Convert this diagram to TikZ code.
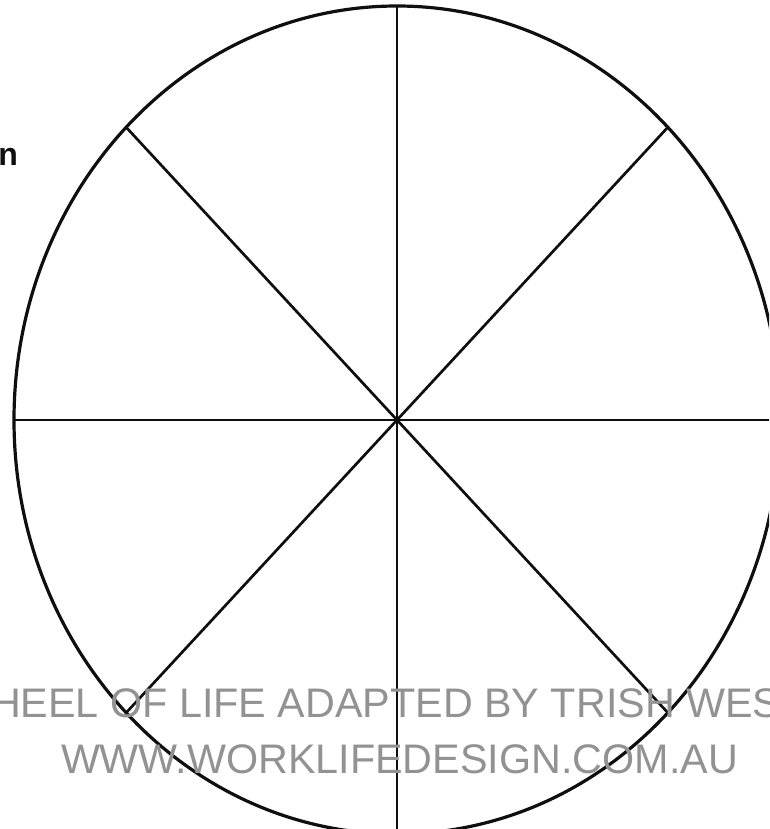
\documentclass[tikz,border=0pt]{standalone}
\usepackage{fontspec}
\newfontfamily\arialf{Liberation Sans}
\definecolor{wmgray}{RGB}{146,146,146}
\definecolor{inkblack}{RGB}{15,15,15}
\begin{document}
\begin{tikzpicture}[x=1pt,y=-1pt,
  rim/.style={draw=inkblack,line width=3.2pt},
  spoke/.style={draw=inkblack,line width=2.7pt},
  wmark/.style={inner sep=0pt,outer sep=0pt,text=wmgray,font=\arialf\fontsize{41.3}{45}\selectfont},
  cornertext/.style={inner sep=0pt,outer sep=0pt,text=inkblack,font=\arialf\bfseries\fontsize{32}{36}\selectfont}]
\useasboundingbox (0,0) rectangle (769,829);
\clip (0,0) rectangle (769,829);
\fill[white] (0,0) rectangle (769,829);
\coordinate (c) at (397,420);
\coordinate (pE) at (780,420);
\coordinate (pW) at (14,420);
\coordinate (pN) at (397,6);
\coordinate (pS) at (397,834);
\coordinate (pNE) at (667.8,127.3);
\coordinate (pNW) at (126.2,127.3);
\coordinate (pSE) at (667.8,712.7);
\coordinate (pSW) at (126.2,712.7);
\draw[spoke] (pW) -- (pE);
\draw[spoke] (pN) -- (pS);
\draw[spoke] (pNW) -- (pSE);
\draw[spoke] (pNE) -- (pSW);
\draw[rim] (c) ellipse [x radius=383, y radius=414];
\node[cornertext,anchor=base east] (n) at (18,165) {n};
\node[wmark,anchor=base west] (l1) at (-9,717) {HEEL OF LIFE ADAPTED BY TRISH WES};
\node[wmark,anchor=base west] (l2) at (61,773) {WWW.WORKLIFEDESIGN.COM.AU};
\end{tikzpicture}
\end{document}
